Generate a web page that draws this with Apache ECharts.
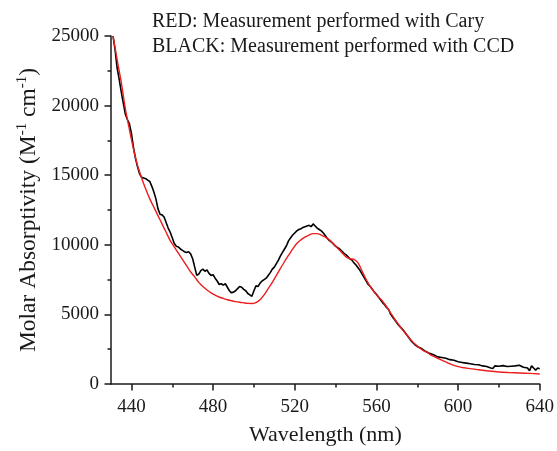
<!DOCTYPE html>
<html><head><meta charset="utf-8">
<script src="https://cdn.jsdelivr.net/npm/echarts@6/dist/echarts.min.js"></script>
<style>html,body{margin:0;padding:0;background:#fff}#c{width:557px;height:451px}</style>
</head><body><div id="c"></div>
<script>
// Black (CCD) measurement: wavelength (nm), molar absorptivity
const ccdWavelength = [431,432,433,434,435,436,437,438,439,440,441,442,443,444,445,446,447,448,449,450,451,452,453,454,455,456,457,458,459,460,461,462,463,464,465,466,467,468,469,470,471,472,473,474,475,476,477,478,479,480,481,482,483,484,485,486,487,488,489,490,491,492,493,494,495,496,497,498,499,500,501,502,503,504,505,506,507,508,509,510,511,512,513,514,515,516,517,518,519,520,521,522,523,524,525,526,527,528,529,530,531,532,533,534,535,536,537,538,539,540,541,542,543,544,545,546,547,548,549,550,551,552,553,554,555,556,557,558,559,560,561,562,563,564,565,566,567,568,569,570,571,572,573,574,575,576,577,578,579,580,582,584,586,588,590,592,594,596,598,600,602,604,606,608,610,612,614,616,617,618,620,622,624,626,628,630,632,634,635,636,637,638,639,640];
const ccdValues = [25000,24000,22700,21900,21000,20200,19400,19000,18700,18000,17000,16200,15600,15100,14850,14800,14750,14650,14550,14200,13800,13300,12600,12200,12150,12000,11600,11200,10900,10500,10100,9900,9850,9700,9600,9500,9450,9500,9350,9000,8400,7800,7900,8150,8250,8100,8200,7950,7800,7850,7600,7400,7150,7200,7100,7200,6950,6700,6550,6600,6700,6850,7000,6950,6800,6700,6500,6400,6300,6700,7050,7000,7250,7400,7500,7600,7800,8000,8250,8400,8650,8900,9200,9450,9700,9950,10300,10500,10700,10850,11000,11100,11150,11250,11300,11350,11400,11300,11500,11350,11200,11100,11000,10850,10650,10450,10300,10200,10050,9900,9800,9700,9550,9400,9300,9150,9000,8900,8700,8550,8350,8150,7900,7650,7400,7150,7000,6800,6600,6450,6250,6050,5850,5700,5500,5350,5000,4800,4600,4400,4200,4050,3900,3700,3500,3300,3100,2950,2800,2700,2550,2350,2200,2100,1950,1900,1850,1750,1700,1600,1550,1500,1450,1400,1380,1300,1260,1150,1120,1300,1280,1320,1260,1280,1300,1350,1200,1150,950,1300,1150,1000,1150,1100];

// Red (Cary) measurement
const caryWavelength = [431,433,435,437,439,441,443,445,447,449,451,453,455,457,459,461,463,465,467,469,471,473,475,477,479,481,483,485,487,489,491,493,495,497,499,501,503,505,507,509,511,513,515,517,519,521,523,525,527,529,531,533,535,537,539,541,543,545,547,549,551,553,555,557,559,561,563,565,567,569,571,573,575,577,579,581,583,585,587,590,593,596,600,605,610,615,620,625,630,635,640];
const caryValues = [25000,23300,21700,19800,18300,16900,15700,14800,14000,13300,12700,12100,11500,10900,10300,9850,9400,8950,8500,8050,7700,7300,7000,6750,6550,6380,6250,6150,6050,5980,5920,5870,5830,5790,5780,5850,6050,6400,6850,7300,7800,8300,8800,9250,9700,10100,10350,10550,10700,10800,10800,10700,10550,10350,10050,9750,9450,9150,9000,8950,8700,8100,7500,7000,6600,6250,5950,5550,5100,4650,4250,3850,3500,3150,2850,2600,2400,2250,2050,1850,1650,1450,1250,1120,1020,930,860,820,790,760,720];

const xTicks = [440,480,520,560,600,640];
const xMinorTicks = [460,500,540,580,620];
const yTicks = [0,5000,10000,15000,20000,25000];
const yMinorTicks = [2500,7500,12500,17500,22500];
const legendLines = ['RED: Measurement performed with Cary','BLACK: Measurement performed with CCD'];

const zip = (a,b) => a.map((v,i)=>[v,b[i]]);
const serif = 'Liberation Serif';
const ink = '#1a1a1a';
const chart = echarts.init(document.getElementById('c'));
const minorAxis = (extra) => Object.assign({type:'value',axisLine:{show:false},
  axisLabel:{show:false},splitLine:{show:false},
  axisTick:{show:true,length:3.5,lineStyle:{color:ink,width:1.5}}}, extra);
chart.setOption({
  animation:false,
  backgroundColor:'#fff',
  grid:{left:111,right:15,top:36,bottom:65,containLabel:false},
  graphic:legendLines.map((t,i)=>({type:'text',left:152,top:12+i*25,style:{text:t,font:'20px "Liberation Serif"',fill:ink}})),
  xAxis:[{type:'value',min:430,max:640,interval:10,
    name:'Wavelength (nm)',nameLocation:'middle',nameGap:40,
    nameTextStyle:{fontFamily:serif,fontSize:22,color:ink},
    axisLine:{onZero:false,lineStyle:{color:ink,width:1.5}},
    axisTick:{show:true,length:6.5,lineStyle:{color:ink,width:1.5},customValues:xTicks},
    axisLabel:{fontFamily:serif,fontSize:19,color:ink,margin:14,customValues:xTicks},
    splitLine:{show:false}},
    minorAxis({min:430,max:640,interval:10,position:'bottom',axisTick:{show:true,length:3.5,lineStyle:{color:ink,width:1.5},customValues:xMinorTicks}})],
  yAxis:[{type:'value',min:0,max:25000,interval:2500,
    name:'{m|Molar Absorptivity (M}{s|-1}{m| cm}{s|-1}{m|)}',nameLocation:'middle',nameGap:68,
    nameTextStyle:{rich:{m:{fontFamily:serif,fontSize:23.5,color:ink,lineHeight:28},s:{fontFamily:serif,fontSize:15,color:ink,verticalAlign:'top',lineHeight:28}}},
    axisLine:{show:true,lineStyle:{color:ink,width:1.5}},
    axisTick:{show:true,length:6.5,lineStyle:{color:ink,width:1.5},customValues:yTicks},
    axisLabel:{fontFamily:serif,fontSize:19,color:ink,margin:12,customValues:yTicks,formatter:v=>String(v)},
    splitLine:{show:false}},
    minorAxis({min:0,max:25000,interval:2500,position:'left',axisTick:{show:true,length:3.5,lineStyle:{color:ink,width:1.5},customValues:yMinorTicks}})],
  series:[
    {type:'line',data:zip(ccdWavelength,ccdValues),showSymbol:false,lineStyle:{color:'#000',width:1.6},z:2},
    {type:'line',data:zip(caryWavelength,caryValues),showSymbol:false,smooth:0.3,lineStyle:{color:'#ee1c1c',width:1.4},z:3}
  ]
});
</script></body></html>
